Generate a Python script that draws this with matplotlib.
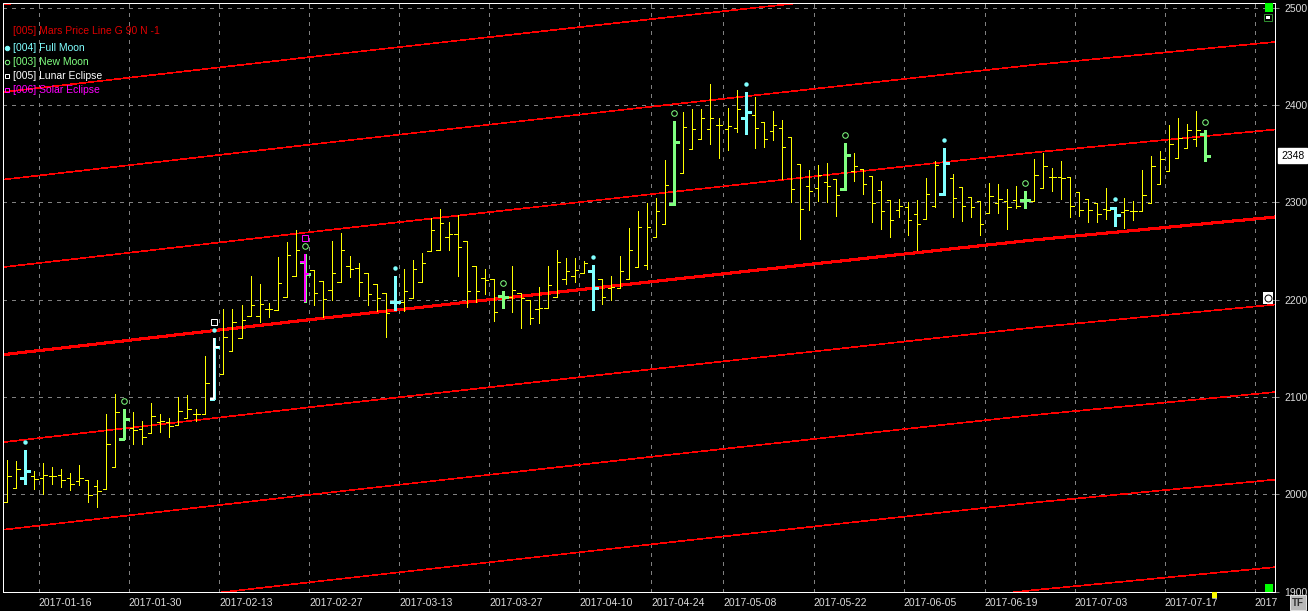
import matplotlib
matplotlib.use("Agg")
import matplotlib.pyplot as plt
import matplotlib.patches as mpatches
import matplotlib.transforms as mtransforms
from matplotlib.lines import Line2D
import numpy as np

plt.rcParams["font.family"] = ["Liberation Sans", "DejaVu Sans"]
plt.rcParams["lines.scale_dashes"] = False

W, H = 1308, 611
PX = 0.72                      # one pixel in points at 100 dpi

# ── Daily OHLC bars, 2017-01-10 .. 2017-07-21 ────────────────────────────────
OPEN = [
    1992, 2006, 2017, 2019, 2017, 2019, 2020, 2017, 2014, 2015,
    2008, 2005, 2028, 2057, 2068, 2067, 2063, 2074, 2074, 2071,
    2078, 2083, 2083, 2098, 2124, 2147, 2161, 2183, 2183, 2190,
    2189, 2203, 2224, 2239, 2231, 2219, 2210, 2218, 2235, 2233,
    2227, 2216, 2207, 2198, 2198, 2202, 2218, 2250, 2251, 2264,
    2268, 2260, 2235, 2222, 2221, 2204, 2203, 2207, 2200, 2190,
    2191, 2203, 2221, 2224, 2228, 2230, 2221, 2212, 2212, 2221,
    2234, 2236, 2264, 2278, 2298, 2330, 2355, 2365, 2376, 2380,
    2376, 2377, 2387, 2390, 2383, 2374, 2377, 2367, 2340, 2317,
    2315, 2321, 2324, 2314, 2332, 2334, 2327, 2313, 2303, 2292,
    2295, 2288, 2283, 2296, 2309, 2325, 2316, 2306, 2302, 2289,
    2299, 2302, 2303, 2303, 2302, 2315, 2326, 2326, 2326, 2311,
    2304, 2299, 2293, 2294, 2290, 2291, 2291, 2299, 2319, 2332,
    2346, 2356, 2365, 2370,
]
HIGH = [
    2035, 2034, 2045, 2024, 2032, 2028, 2026, 2022, 2030, 2015,
    2015, 2083, 2103, 2088, 2085, 2075, 2094, 2083, 2078, 2100,
    2102, 2088, 2142, 2161, 2190, 2190, 2195, 2224, 2216, 2197,
    2244, 2259, 2272, 2247, 2231, 2219, 2260, 2269, 2245, 2238,
    2227, 2216, 2207, 2224, 2232, 2241, 2248, 2284, 2293, 2280,
    2287, 2260, 2235, 2232, 2221, 2209, 2235, 2207, 2200, 2213,
    2235, 2251, 2243, 2243, 2240, 2236, 2221, 2224, 2245, 2274,
    2291, 2299, 2305, 2344, 2384, 2393, 2396, 2396, 2422, 2387,
    2397, 2416, 2414, 2408, 2383, 2394, 2385, 2367, 2340, 2333,
    2339, 2341, 2324, 2361, 2351, 2334, 2327, 2322, 2303, 2304,
    2300, 2303, 2325, 2343, 2356, 2329, 2316, 2306, 2302, 2320,
    2319, 2314, 2317, 2312, 2345, 2351, 2335, 2343, 2326, 2311,
    2304, 2299, 2315, 2295, 2305, 2302, 2333, 2348, 2353, 2380,
    2387, 2381, 2394, 2375,
]
LOW = [
    1992, 2006, 2011, 2005, 2000, 2011, 2007, 2004, 2010, 1992,
    1987, 2005, 2028, 2057, 2052, 2052, 2063, 2064, 2059, 2071,
    2078, 2075, 2083, 2098, 2124, 2147, 2161, 2183, 2177, 2182,
    2189, 2203, 2224, 2198, 2195, 2182, 2200, 2218, 2223, 2204,
    2195, 2188, 2162, 2189, 2188, 2202, 2218, 2250, 2251, 2251,
    2224, 2193, 2198, 2206, 2178, 2192, 2187, 2171, 2175, 2176,
    2191, 2203, 2216, 2218, 2228, 2189, 2196, 2200, 2212, 2221,
    2234, 2232, 2264, 2278, 2297, 2330, 2355, 2365, 2360, 2346,
    2354, 2372, 2370, 2356, 2357, 2364, 2324, 2300, 2262, 2292,
    2302, 2300, 2286, 2313, 2322, 2309, 2280, 2273, 2264, 2285,
    2267, 2251, 2283, 2295, 2308, 2285, 2281, 2285, 2267, 2289,
    2289, 2273, 2294, 2294, 2302, 2315, 2312, 2304, 2285, 2286,
    2280, 2280, 2283, 2276, 2274, 2282, 2291, 2299, 2319, 2332,
    2346, 2356, 2358, 2343,
]
CLOSE = [
    2019, 2026, 2024, 2016, 2020, 2019, 2015, 2011, 2017, 1999,
    2003, 2052, 2085, 2077, 2066, 2059, 2080, 2075, 2070, 2086,
    2088, 2083, 2114, 2151, 2162, 2177, 2179, 2195, 2196, 2190,
    2217, 2246, 2251, 2226, 2207, 2201, 2227, 2251, 2232, 2218,
    2206, 2202, 2186, 2198, 2209, 2232, 2238, 2272, 2279, 2268,
    2254, 2209, 2209, 2220, 2187, 2203, 2210, 2202, 2181, 2192,
    2215, 2239, 2230, 2231, 2238, 2212, 2203, 2213, 2230, 2251,
    2275, 2275, 2291, 2318, 2362, 2378, 2376, 2387, 2387, 2380,
    2379, 2396, 2393, 2377, 2365, 2380, 2357, 2314, 2293, 2312,
    2328, 2317, 2308, 2349, 2338, 2319, 2299, 2291, 2282, 2296,
    2282, 2278, 2309, 2339, 2341, 2305, 2296, 2295, 2278, 2307,
    2304, 2295, 2296, 2303, 2328, 2338, 2326, 2325, 2296, 2292,
    2292, 2288, 2292, 2287, 2292, 2291, 2308, 2337, 2345, 2360,
    2366, 2375, 2375, 2348,
]

# moon phase / eclipse bars (0-based bar index)
FULL_MOON     = [2, 23, 43, 65, 82, 104, 123]
NEW_MOON      = [13, 33, 55, 74, 93, 113, 133]
LUNAR_ECLIPSE = [23]
SOLAR_ECLIPSE = [33]

# date axis: bar index of each labelled date
TICK_BARS   = [4, 14, 24, 34, 44, 54, 64, 72, 80, 90, 100, 109, 119, 129, 139]
TICK_LABELS = ["2017-01-16", "2017-01-30", "2017-02-13", "2017-02-27",
               "2017-03-13", "2017-03-27", "2017-04-10", "2017-04-24",
               "2017-05-08", "2017-05-22", "2017-06-05", "2017-06-19",
               "2017-07-03", "2017-07-17", "2017"]

# Mars price line (base harmonic) read at a few bars; others are +/- 90
MARS_BARS  = [-0.5, 35, 70, 105, 114, 140.7]
MARS_PRICE = [2143.5, 2181, 2217, 2252.5, 2261.5, 2285]
MARS_STEP  = 90
MARS_HARM  = [-4, -3, -2, -1, 0, 1, 2, 3, 4]

Y_TICKS    = [1900, 2000, 2100, 2200, 2300, 2400, 2500]
LAST_PRICE = CLOSE[-1]

YELLOW  = "#FFFF00"
CYAN    = "#80FFFF"
GREEN   = "#80FF80"
MAGENTA = "#FF00FF"
RED     = "#FF0000"
GRID    = "#808080"
LABEL   = "#DDDDDD"

o, h, l, c = (np.array(a, dtype=float) for a in (OPEN, HIGH, LOW, CLOSE))
x = np.arange(len(o))

fig = plt.figure(figsize=(W / 100, H / 100), dpi=100, facecolor="black")
ax = fig.add_axes([3 / W, 19 / H, 1272 / W, 589 / H])
ax.set_facecolor("black")
ax.set_xlim(-0.477, 140.73)
ax.set_ylim(1899.5, 2505.1)

# ── grid, frame, ticks ───────────────────────────────────────────────────────
ax.set_xticks(np.array(TICK_BARS) - 0.5)
ax.set_xticklabels(TICK_LABELS)
for t in ax.get_xticklabels():
    t.set_horizontalalignment("left")
ax.yaxis.tick_right()
ax.set_yticks(Y_TICKS)
ax.tick_params(axis="x", length=0, labelcolor=LABEL, labelsize=7.5, pad=4.5)
ax.tick_params(axis="y", length=3, width=PX, color=GRID, labelcolor=LABEL,
               labelsize=7.5, pad=3.5)
ax.grid(True, color=GRID, lw=PX, linestyle=(0, (2.2, 4.3)), antialiased=False)
ax.set_axisbelow(True)
for sp in ax.spines.values():
    sp.set_color("white")
    sp.set_linewidth(PX)

# ── Mars price lines ─────────────────────────────────────────────────────────
for k in MARS_HARM:
    ax.plot(MARS_BARS, np.array(MARS_PRICE) + k * MARS_STEP, color=RED,
            lw=1.5 if k == 0 else 0.45, antialiased=False, zorder=2)

# ── OHLC bars ────────────────────────────────────────────────────────────────
special = set(FULL_MOON) | set(NEW_MOON)
norm = np.array([i for i in x if i not in special])


def ohlc(idx, color, lw, tick, z):
    idx = np.asarray(idx)
    ax.vlines(x[idx], l[idx], h[idx], color=color, lw=lw, antialiased=False, zorder=z)
    ax.hlines(o[idx], x[idx] - tick, x[idx], color=color, lw=lw, antialiased=False, zorder=z)
    ax.hlines(c[idx], x[idx], x[idx] + tick, color=color, lw=lw, antialiased=False, zorder=z)


ohlc(norm, YELLOW, PX, 0.37, 3)
ohlc(FULL_MOON, CYAN, 3 * PX, 0.55, 4)
ohlc(NEW_MOON, GREEN, 3 * PX, 0.55, 4)
ohlc(LUNAR_ECLIPSE, "white", 2 * PX, 0.5, 5)
ohlc(SOLAR_ECLIPSE, MAGENTA, 2 * PX, 0.5, 5)

# event markers above the highs
up1 = mtransforms.offset_copy(ax.transData, fig=fig, x=0, y=8, units="dots")
up2 = mtransforms.offset_copy(ax.transData, fig=fig, x=0, y=16, units="dots")
ax.plot(x[FULL_MOON], h[FULL_MOON], "o", ms=3.2, color=CYAN, mew=0,
        transform=up1, zorder=6)
ax.plot(x[NEW_MOON], h[NEW_MOON], "o", ms=4, mfc="none", mec=GREEN, mew=PX,
        transform=up1, zorder=6)
ax.plot(x[LUNAR_ECLIPSE], h[LUNAR_ECLIPSE], "s", ms=4, mfc="none", mec="white",
        mew=PX, transform=up2, zorder=6)
ax.plot(x[SOLAR_ECLIPSE], h[SOLAR_ECLIPSE], "s", ms=4, mfc="none", mec=MAGENTA,
        mew=PX, transform=up2, zorder=6)

# last price box on the right scale
lp = mtransforms.blended_transform_factory(fig.transFigure, ax.transData)
ax.text(1281 / W, LAST_PRICE, f"{LAST_PRICE:.0f}", transform=lp, ha="left",
        va="center", fontsize=7.5, color="black", clip_on=False,
        bbox=dict(boxstyle="square,pad=0.25", fc="white", ec="white"))

# ── legend (top left) ────────────────────────────────────────────────────────
LEGEND = [
    (None, "[005] Mars Price Line G 90 N -1", "#E00000", 31),
    (("o", CYAN, CYAN), "[004] Full Moon", CYAN, 48),
    (("o", "none", GREEN), "[003] New Moon", GREEN, 62),
    (("s", "none", "white"), "[005] Lunar Eclipse", "white", 76),
    (("s", "none", MAGENTA), "[006] Solar Eclipse", MAGENTA, 90),
]
for mk, txt, col, yy in LEGEND:
    fig.text(13 / W, 1 - yy / H, txt, color=col, fontsize=7.5, ha="left",
             va="center")
    if mk:
        fig.add_artist(Line2D([6.5 / W], [1 - yy / H], marker=mk[0], ms=3.2,
                              mfc=mk[1], mec=mk[2], mew=PX, ls="none",
                              transform=fig.transFigure))


# ── little chart widgets on the right / bottom ───────────────────────────────
def px_box(x0, y0, x1, y1, **kw):
    fig.add_artist(mpatches.Rectangle((x0 / W, 1 - y1 / H), (x1 - x0) / W,
                                      (y1 - y0) / H, transform=fig.transFigure,
                                      **kw))


px_box(1265, 3, 1273, 12, fc="#00FF00", ec="none")
px_box(1264, 14, 1272, 21, fc="black", ec="#2E8B2E", lw=PX)
px_box(1266, 16.5, 1270, 18.5, fc="white", ec="none")
px_box(1263, 292, 1273, 304, fc="white", ec="none")
fig.add_artist(Line2D([1268 / W], [1 - 298 / H], marker="o", ms=5, mfc="white",
                      mec="black", mew=PX, transform=fig.transFigure))
px_box(1265, 584, 1273, 592, fc="#00FF00", ec="none")
px_box(1212, 592, 1217, 598, fc=YELLOW, ec="none")
px_box(1290, 595, 1306, 610, fc="#B8B8B8", ec="#E0E0E0", lw=PX)
fig.text(1298 / W, 1 - 603 / H, "TF", color="#303030", fontsize=7,
         ha="center", va="center", fontweight="bold")

fig.savefig("out.png", dpi=100, facecolor="black")
